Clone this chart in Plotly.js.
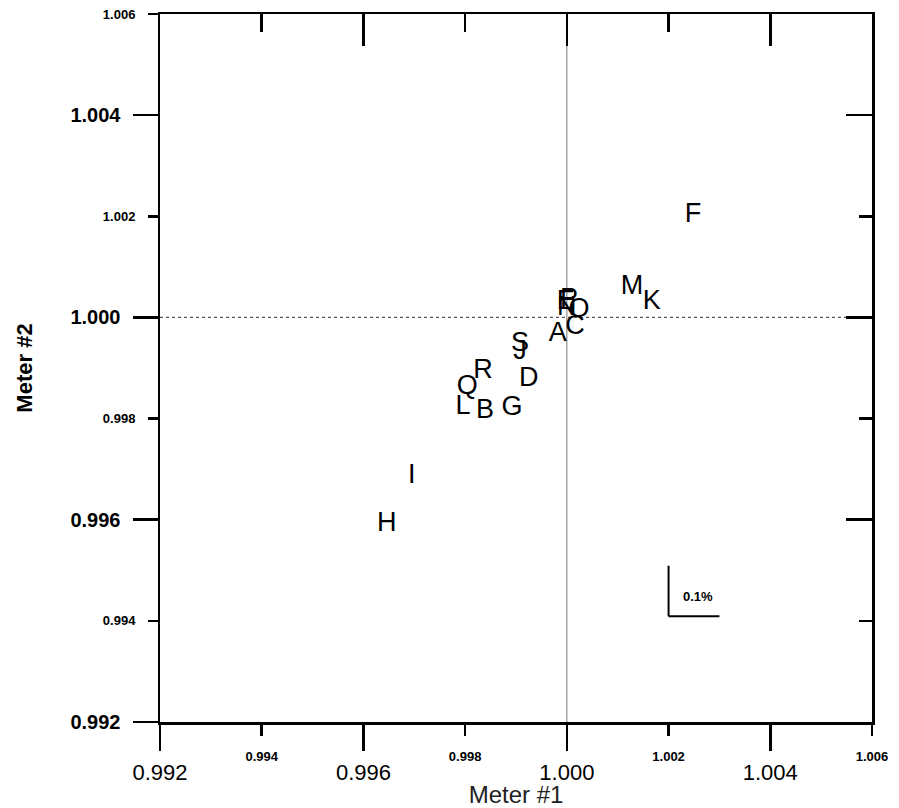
<!DOCTYPE html>
<html>
<head>
<meta charset="utf-8">
<script src="https://cdn.plot.ly/plotly-3.0.1.min.js"></script>
<style>html,body{margin:0;padding:0;background:#fff;}#chart{width:899px;height:808px;}</style>
</head>
<body>
<div id="chart"></div>
<script>
// Data (Meter #1 vs Meter #2 ratios, labelled by letter)
const labels  = ["A","B","C","D","E","F","G","H","I","J","K","L","M","N","O","P","Q","R","S"];
const meter1  = [0.99982,0.99839,1.00016,0.99925,0.99998,1.00248,0.99892,0.99646,0.99695,0.99908,1.00167,0.99796,1.00128,1.00000,1.00024,1.00004,0.99804,0.99835,0.99908];
const meter2  = [0.99967,0.99815,0.99980,0.99878,1.00030,1.00203,0.99821,0.99591,0.99685,0.99931,1.00030,0.99823,1.00059,1.00018,1.00014,1.00033,0.99862,0.99894,0.99947];

const majorTicks = [0.992, 0.996, 1.000, 1.004];
const minorTicks = [0.994, 0.998, 1.002, 1.006];
const majorText  = ["0.992","0.996","1.000","1.004"];
const minorText  = ["0.994","0.998","1.002","1.006"];
const axisRange  = [0.992, 1.006];
const scaleBar   = {x: 1.002, y: 0.99409, len: 0.001, label: "0.1%"};

const FONT = "Liberation Sans, Arial, Helvetica, sans-serif";

const trace = {
  type: "scatter",
  mode: "text",
  x: meter1,
  y: meter2,
  text: labels,
  textposition: "middle center",
  textfont: {family: FONT, size: 27, color: "#000"},
  hoverinfo: "x+y+text",
  showlegend: false
};

// empty helper traces so the overlaid frame/tick axes are drawn
function helper(xa, ya) {
  return {type: "scatter", mode: "markers", x: [], y: [], xaxis: xa, yaxis: ya, showlegend: false, hoverinfo: "skip"};
}

const base = {range: axisRange, showgrid: false, zeroline: false, fixedrange: true, tickcolor: "#000", linecolor: "#000"};

const layout = {
  width: 899, height: 808,
  margin: {l: 160, r: 27, t: 14, b: 86},
  paper_bgcolor: "#fff", plot_bgcolor: "#fff",
  font: {family: FONT, color: "#000"},
  showlegend: false,
  xaxis: Object.assign({}, base, {
    anchor: "y", side: "bottom",
    tickmode: "array", tickvals: majorTicks, ticktext: majorText,
    ticks: "outside", ticklen: 26, tickwidth: 2.5,
    showline: true, linewidth: 2.5,
    tickfont: {family: FONT, size: 22, color: "#000"},
    ticklabelstandoff: 3,
    title: {text: "Meter #1", font: {family: FONT, size: 24, color: "#222"}, standoff: 3}
  }),
  xaxis2: Object.assign({}, base, {
    overlaying: "x", anchor: "y", side: "bottom",
    tickmode: "array", tickvals: minorTicks, ticktext: minorText,
    ticks: "outside", ticklen: 13, tickwidth: 2.5,
    showline: false,
    tickfont: {family: FONT, size: 13, color: "#000", weight: "bold"},
    ticklabelstandoff: 9
  }),
  xaxis3: Object.assign({}, base, {
    overlaying: "x", anchor: "y", side: "top",
    tickmode: "array", tickvals: majorTicks,
    ticks: "inside", ticklen: 32, tickwidth: 2.5,
    minor: {tickmode: "array", tickvals: minorTicks, ticks: "inside", ticklen: 18, tickwidth: 2.5, tickcolor: "#000"},
    showline: true, linewidth: 2.5, showticklabels: false
  }),
  yaxis: Object.assign({}, base, {
    anchor: "x", side: "left",
    tickmode: "array", tickvals: majorTicks, ticktext: majorText,
    ticks: "outside", ticklen: 25, tickwidth: 2.5,
    showline: true, linewidth: 2.5,
    tickfont: {family: FONT, size: 20, color: "#000", weight: "bold"},
    ticklabelstandoff: 8,
    title: {text: "Meter #2", font: {family: FONT, size: 22, color: "#000", weight: "bold"}, standoff: 32}
  }),
  yaxis2: Object.assign({}, base, {
    overlaying: "y", anchor: "x", side: "left",
    tickmode: "array", tickvals: minorTicks, ticktext: minorText,
    ticks: "outside", ticklen: 11, tickwidth: 2.5,
    showline: false,
    tickfont: {family: FONT, size: 13, color: "#000", weight: "bold"},
    ticklabelstandoff: 10
  }),
  yaxis3: Object.assign({}, base, {
    overlaying: "y", anchor: "x", side: "right",
    tickmode: "array", tickvals: majorTicks,
    ticks: "inside", ticklen: 26, tickwidth: 2.5,
    minor: {tickmode: "array", tickvals: minorTicks, ticks: "inside", ticklen: 13, tickwidth: 2.5, tickcolor: "#000"},
    showline: true, linewidth: 2.5, showticklabels: false
  }),
  shapes: [
    {type: "line", xref: "x", yref: "y", x0: axisRange[0], x1: axisRange[1], y0: 1.000, y1: 1.000,
     line: {color: "#555", width: 1.2, dash: "dot"}, layer: "below"},
    {type: "line", xref: "x", yref: "y", x0: 1.000, x1: 1.000, y0: axisRange[0], y1: axisRange[1],
     line: {color: "#777", width: 1}, layer: "below"},
    {type: "line", xref: "x", yref: "y", x0: scaleBar.x, x1: scaleBar.x, y0: scaleBar.y, y1: scaleBar.y + scaleBar.len,
     line: {color: "#000", width: 2}},
    {type: "line", xref: "x", yref: "y", x0: scaleBar.x, x1: scaleBar.x + scaleBar.len, y0: scaleBar.y, y1: scaleBar.y,
     line: {color: "#000", width: 2}}
  ],
  annotations: [
    {xref: "x", yref: "y", x: scaleBar.x + 0.00057, y: scaleBar.y + 0.0004, text: "<b>" + scaleBar.label + "</b>",
     showarrow: false, font: {family: FONT, size: 13, color: "#000"}}
  ]
};

const traces = [trace, helper("x2", "y"), helper("x3", "y"), helper("x", "y2"), helper("x", "y3")];
Plotly.newPlot("chart", traces, layout, {displayModeBar: false, staticPlot: true});
</script>
</body>
</html>
